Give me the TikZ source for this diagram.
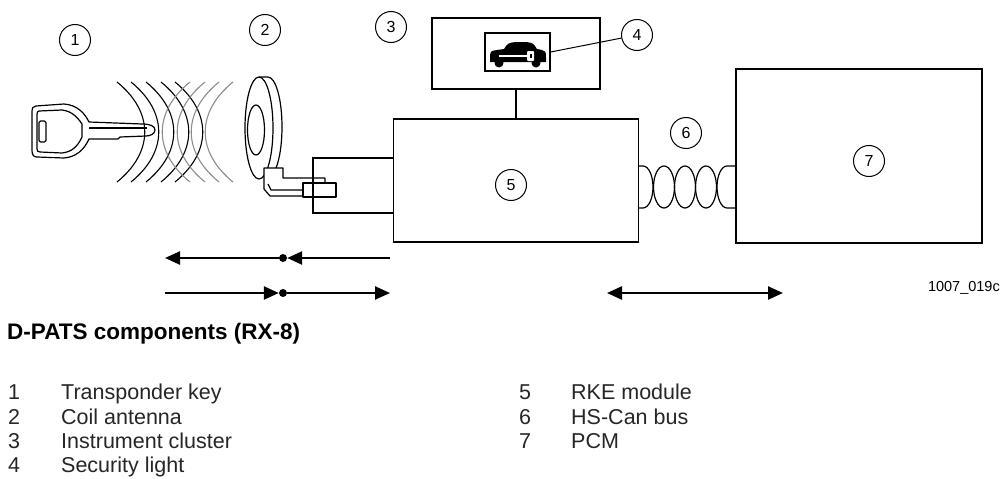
\documentclass[tikz,border=0pt]{standalone}
\usepackage{fontspec}
\setmainfont{Liberation Sans}
\usetikzlibrary{arrows.meta}

\begin{document}
\begin{tikzpicture}[x=1pt,y=-1pt,
  num/.style={draw, circle, line width=1pt, minimum size=31pt, inner sep=0pt,
              font=\fontsize{16}{16}\selectfont},
  unit/.style={draw, line width=1.4pt, inner sep=0pt},
  part/.style={line width=1.2pt, line join=round},
  wave/.style={line width=1.1pt},
  faint/.style={line width=1.1pt, black!45},
  flow/.style={line width=2.4pt, -{Triangle[length=15pt,width=13pt]}},
  both/.style={line width=2.4pt, {Triangle[length=15pt,width=13pt]}-{Triangle[length=15pt,width=13pt]}},
  joint/.style={circle, fill, inner sep=0pt, minimum size=8pt},
  item/.style={anchor=base west, inner sep=0pt, text=black!85,
               font=\fontsize{21.5}{24}\selectfont}]
\useasboundingbox (0,0) rectangle (1005,479);

% ---------- transponder key ----------
\draw[part] (36,106) -- (64,104) .. controls (78,105) and (85,114) .. (89,122)
  -- (142,124) .. controls (150,124) and (155,126) .. (155,130)
  .. controls (155,134) and (150,136) .. (146,136) -- (120,137) -- (118,139)
  -- (89,139) .. controls (84,150) and (76,157) .. (64,158) -- (37,157)
  .. controls (33,157) and (32,154) .. (32,150) -- (32,112)
  .. controls (32,108) and (33,106) .. (36,106) -- cycle;
\draw[part] (39,111) -- (62,110) .. controls (72,111) and (78,118) .. (82,124)
  -- (82,137) .. controls (78,146) and (72,152) .. (62,153) -- (40,152)
  .. controls (38,152) and (37,151) .. (37,149) -- (37,114)
  .. controls (37,112) and (38,111) .. (39,111) -- cycle;
\draw[part, rounded corners=1.5pt] (39,121) rectangle (46,142);
\draw[part] (89,128) -- (147,128);

% ---------- field lines between key and antenna ----------
\foreach \x in {117,131,146,161,175}
  \draw[wave] (\x,82) .. controls (\x+37,112) and (\x+37,152) .. (\x,182);
\foreach \x in {190,205,219,233}
  \draw[faint] (\x,82) .. controls (\x-37,112) and (\x-37,152) .. (\x,182);

% ---------- coil antenna ----------
\draw[part] (259,128) ellipse [x radius=14, y radius=51];
\draw[part] (256,130) ellipse [x radius=8.5, y radius=25];
\draw[part] (259,77) -- (268,77) arc[start angle=-90, end angle=90, x radius=14, y radius=50];
\draw[part, fill=white] (264,168) -- (283,168) -- (283,178) -- (325,178) -- (325,183)
  -- (303,183) -- (303,196) -- (270,196) -- (264,189) -- cycle;
\draw[part, fill=white] (303,183) rectangle (336,197);
\draw[part] (268,184) -- (271,190) -- (303,190);

% ---------- units ----------
\node[unit, minimum width=168pt, minimum height=71pt] (cluster) at (516,53.5) {};
\node[unit, minimum width=65pt, minimum height=38pt] (lamp) at (517.5,52) {};
\node[unit, minimum width=245pt, minimum height=123pt] (rke) at (516,180.5) {};
\node[unit, minimum width=246pt, minimum height=174pt] (pcm) at (859,156) {};
\draw[line width=1.4pt] (rke.west |- 0,158) -- (313,158) -- (313,213) -- (rke.west |- 0,213);
\draw[line width=1.4pt] (cluster.south) -- (cluster.south |- rke.north);

% security light symbol: car with key
\fill (490,62) -- (490,55) .. controls (491,51) .. (497,50) -- (504,49)
  .. controls (508,43) .. (516,42) -- (526,42) .. controls (533,43) .. (537,49)
  -- (542,50) .. controls (546,52) .. (546,57) -- (546,62) -- cycle;
\fill (499,63) circle (4.5) (536,63) circle (4.5);
\draw[white, line width=2pt] (499,56) -- (527,56);
\fill[white, rounded corners=1pt] (527,51) rectangle (534,61);
\fill (529.5,54) rectangle (531.5,58);

% ---------- HS-CAN bus ----------
\draw[part] (rke.east |- 0,166) -- (643,166)
  arc[start angle=-90, end angle=90, x radius=10, y radius=21] -- (rke.east |- 0,208);
\foreach \x in {664,685,706}
  \draw[part] (\x,187) ellipse [x radius=10.5, y radius=21];
\draw[part] (pcm.west |- 0,166) -- (727,166)
  arc[start angle=-90, end angle=-270, x radius=10, y radius=21] -- (pcm.west |- 0,208);

% ---------- item numbers ----------
\node[num] (n1) at (75,40) {1};
\node[num] (n2) at (265,30) {2};
\node[num] (n3) at (391,27) {3};
\node[num] (n4) at (637,35) {4};
\node[num] (n5) at (511,185) {5};
\node[num] (n6) at (686,133) {6};
\node[num] (n7) at (869,161) {7};
\draw[line width=1pt] (lamp.east) -- (n4);

% ---------- signal directions ----------
\coordinate (r1) at (390,258);
\coordinate (l1) at (165,258);
\node[joint] (j1) at (283,258) {};
\draw[flow] (r1) -- (j1);
\draw[flow] (j1) -- (l1);
\coordinate (l2) at (165,293);
\coordinate (r2) at (390,293);
\node[joint] (j2) at (283,293) {};
\draw[flow] (l2) -- (j2);
\draw[flow] (j2) -- (r2);
\coordinate (l3) at (607,293);
\coordinate (r3) at (783,293);
\draw[both] (l3) -- (r3);

% ---------- caption and legend ----------
\node[anchor=base east, inner sep=0pt, font=\fontsize{14.5}{14}\selectfont] (ref) at (1000,291) {1007\_019c};
\node[anchor=base west, inner sep=0pt, font=\fontsize{22.5}{24}\selectfont\bfseries] (title) at (7,339) {D-PATS components (RX-8)};

\node[item] (k1) at (8,399) {1};   \node[item] (t1) at (61,399) {Transponder key};
\node[item] (k2) at (8,424) {2};   \node[item] (t2) at (61,424) {Coil antenna};
\node[item] (k3) at (8,448) {3};   \node[item] (t3) at (61,448) {Instrument cluster};
\node[item] (k4) at (8,472) {4};   \node[item] (t4) at (61,472) {Security light};
\node[item] (k5) at (519,399) {5}; \node[item] (t5) at (571,399) {RKE module};
\node[item] (k6) at (519,424) {6}; \node[item] (t6) at (571,424) {HS-Can bus};
\node[item] (k7) at (519,448) {7}; \node[item] (t7) at (571,448) {PCM};
\end{tikzpicture}
\end{document}
